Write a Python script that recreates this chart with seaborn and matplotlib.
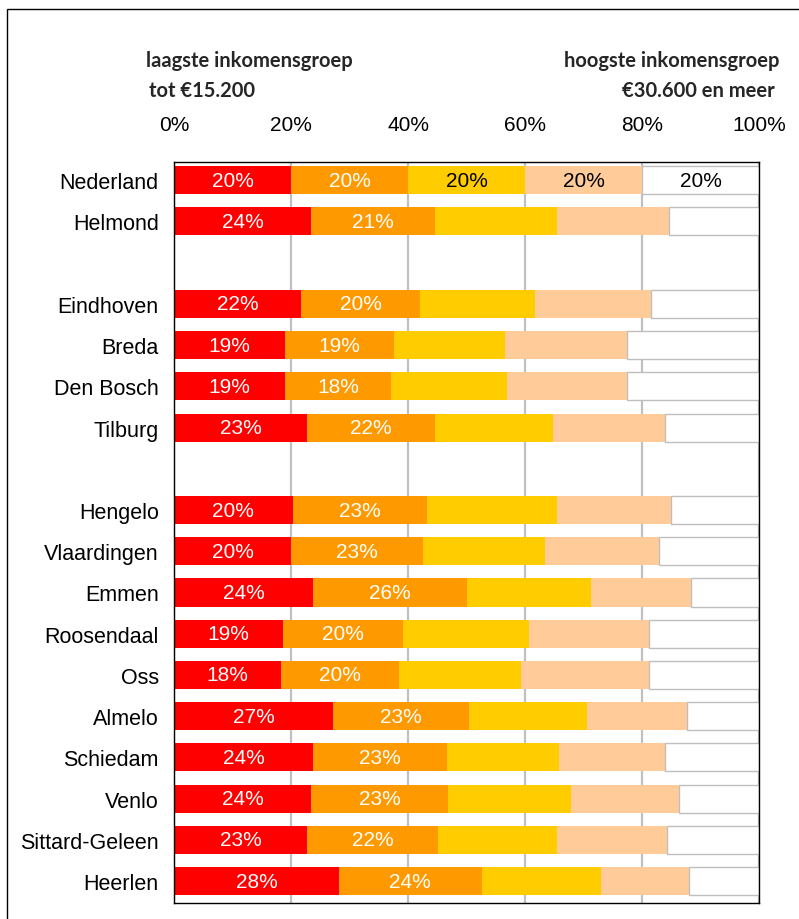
import matplotlib
matplotlib.use("Agg")
import matplotlib.pyplot as plt
from matplotlib.patches import Rectangle
import seaborn as sns
import pandas as pd
import numpy as np

# categories (blank rows separate the groups)
order = ["Nederland", "Helmond", " ",
         "Eindhoven", "Breda", "Den Bosch", "Tilburg", "  ",
         "Hengelo", "Vlaardingen", "Emmen", "Roosendaal", "Oss", "Almelo",
         "Schiedam", "Venlo", "Sittard-Geleen", "Heerlen"]
cities = [c for c in order if c.strip()]

# share per income group (%)
laagste = [20, 23.5, 21.7, 19.0, 19.0, 22.7, 20.3, 20.0, 23.8, 18.7, 18.3, 27.2, 23.8, 23.5, 22.7, 28.2]
laag_midden = [20, 21.1, 20.4, 18.6, 18.1, 21.9, 22.9, 22.6, 26.3, 20.4, 20.2, 23.2, 22.9, 23.4, 22.4, 24.4]
midden = [20, 20.9, 19.6, 19.0, 19.8, 20.2, 22.3, 20.8, 21.2, 21.6, 20.8, 20.2, 19.1, 21.0, 20.4, 20.4]
hoog_midden = [20, 19.1, 19.8, 20.8, 20.5, 19.1, 19.5, 19.5, 17.1, 20.5, 21.9, 17.1, 18.1, 18.4, 18.8, 15.0]
hoogste = [20, 15.4, 18.5, 22.6, 22.6, 16.1, 15.0, 17.1, 11.6, 18.8, 18.8, 12.3, 16.1, 13.7, 15.7, 12.0]

groups = [laagste, laag_midden, midden, hoog_midden, hoogste]
colors = ["#FF0000", "#FF9900", "#FFCC00", "#FFCC99", "#FFFFFF"]

df = pd.DataFrame({"stad": cities})
for k, g in enumerate(groups):
    df[f"g{k}"] = g
segs = df[[f"g{k}" for k in range(5)]].to_numpy()
lefts = np.cumsum(segs, axis=1) - segs

sns.set_theme(style="white")
plt.rcParams["font.family"] = ["Liberation Sans", "DejaVu Sans"]

fig = plt.figure(figsize=(7.99, 9.2), dpi=100)
ax = fig.add_axes([174 / 799, 1 - 904 / 920, 585 / 799, 741 / 920])

# stacked bars: each segment starts where the previous one ends
for k in range(5):
    if k == 4:
        edge, lw = "#BFBFBF", 1.0
    else:
        edge, lw = "none", 0
    sns.barplot(data=df, x=f"g{k}", y="stad", order=order, color=colors[k],
                left=lefts[:, k], width=0.68, edgecolor=edge, linewidth=lw,
                saturation=1, errorbar=None, ax=ax, zorder=2)

# value labels
pos = {name: i for i, name in enumerate(order)}
for r, name in enumerate(cities):
    for k in range(5):
        if name != "Nederland" and k > 1:
            continue
        txt_color = "white" if k < 2 else "black"
        ax.text(lefts[r, k] + segs[r, k] / 2, pos[name], f"{int(segs[r, k] + 0.5)}%",
                ha="center", va="center", color=txt_color, fontsize=15, zorder=5)

ax.set_xlim(0, 100)
ax.set_ylim(len(order) - 0.47, -0.44)
ax.set_xticks(range(0, 101, 20))
ax.set_xticklabels([f"{t}%" for t in range(0, 101, 20)])
ax.xaxis.tick_top()
ax.tick_params(axis="x", length=0, pad=20, labelsize=15, colors="black")
ax.tick_params(axis="y", length=0, pad=11, labelsize=15.5, colors="black")
ax.set_xlabel("")
ax.set_ylabel("")
ax.xaxis.grid(True, color="#C0C0C0", linewidth=1.6, zorder=0)
ax.set_axisbelow(True)
for s in ax.spines.values():
    s.set_visible(True)
    s.set_color("black")
    s.set_linewidth(1.0)

bold = dict(fontsize=14.5, fontweight="bold", family=["Lato", "DejaVu Sans"], va="baseline")
fig.text(146 / 799, 1 - 67 / 920, "laagste inkomensgroep", ha="left", **bold)
fig.text(149 / 799, 1 - 97 / 920, "tot €15.200", ha="left", **bold)
fig.text(779 / 799, 1 - 67 / 920, "hoogste inkomensgroep", ha="right", **bold)
fig.text(775 / 799, 1 - 97 / 920, "€30.600 en meer", ha="right", **bold)

# outer chart border (runs off the right and bottom edge)
fig.add_artist(Rectangle((7 / 799, -0.1), 2, 1.1 - 10 / 920, transform=fig.transFigure,
                         fill=False, edgecolor="black", linewidth=1.0))

fig.savefig("out.png", dpi=100)
